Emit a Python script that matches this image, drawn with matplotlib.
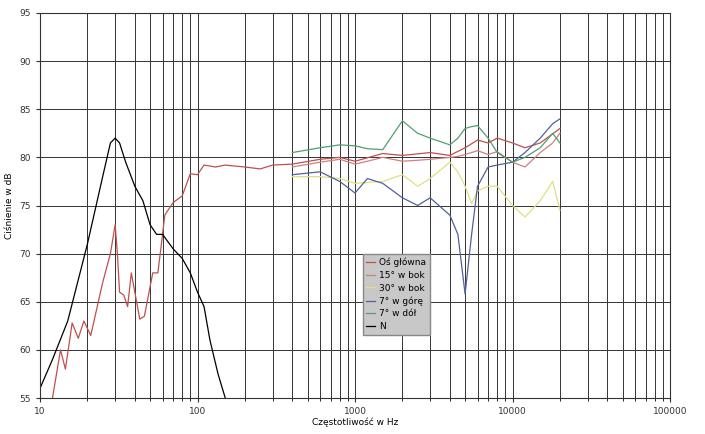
import numpy as np
import matplotlib.pyplot as plt

# Os główna (main axis)
f_main = [12, 13.5, 14.5, 16, 17.5, 19, 21, 25, 28, 30, 31, 32, 34, 36, 38, 40, 43, 46, 52, 56, 59, 62, 70,
          80, 90, 100, 110, 130, 150, 200, 250, 300, 400, 600, 800, 1000, 1500, 2000, 3000, 4000, 5000,
          6000, 7000, 8000, 10000, 12000, 15000, 20000]
db_main = [55, 60, 58, 62.8, 61.2, 63, 61.5, 67, 70, 73, 70, 66, 65.7, 64.5, 68, 66, 63.2, 63.5, 68, 68, 71, 74,
           75.3, 76, 78.3, 78.2, 79.2, 79, 79.2, 79, 78.8, 79.2, 79.3, 79.8, 80, 79.6, 80.4, 80.2, 80.5, 80.2,
           81, 81.8, 81.5, 82, 81.5, 81, 81.5, 83]

f_hi = [400, 600, 800, 1000, 1200, 1500, 2000, 2500, 3000, 4000, 4500, 5000, 5500, 6000, 7000, 8000,
        10000, 12000, 15000, 18000, 20000]
db_15 = [79, 79.5, 79.8, 79.3, 79.6, 80, 79.6, 79.7, 79.8, 80, 80.1, 80.3, 80.5, 80.7, 80.3, 80.6,
         79.5, 79, 80.5, 81.5, 82.5]
db_30 = [78, 78, 77.8, 77.3, 77.4, 77.5, 78.2, 77, 77.8, 79.5, 78.5, 77, 75.2, 76.5, 77, 77,
         75, 73.8, 75.5, 77.5, 74.5]
db_up = [78.2, 78.5, 77.5, 76.3, 77.8, 77.3, 75.8, 75, 75.8, 74, 72, 65.8, 72, 77, 79, 79.2,
         79.5, 80.5, 82, 83.5, 84]
db_down = [80.5, 81, 81.3, 81.2, 80.9, 80.8, 83.8, 82.5, 82, 81.3, 82, 83, 83.2, 83.3, 82, 80.5,
           79.5, 80, 81, 82.5, 81.5]

f_n = [10, 12, 15, 20, 25, 28, 30, 32, 35, 40, 45, 50, 55, 60, 70, 80, 90, 100, 110, 120, 135, 150]
db_n = [56, 59, 63, 71, 78, 81.5, 82, 81.5, 79.5, 77, 75.5, 73, 72, 72, 70.5, 69.5, 68, 66, 64.5, 61, 57.5, 55]

fig = plt.figure(figsize=(7.05, 4.34), dpi=100)
ax = fig.add_axes([40/705, 36/434, 630/705, 385/434])

ax.plot(f_main, db_main, color='#c0504d', lw=0.9, label='Oś główna')
ax.plot(f_hi, db_15, color='#d08080', lw=0.9, label='15° w bok')
ax.plot(f_hi, db_30, color='#e0e080', lw=0.9, label='30° w bok')
ax.plot(f_hi, db_up, color='#5060a0', lw=0.9, label='7° w górę')
ax.plot(f_hi, db_down, color='#50a070', lw=0.9, label='7° w dół')
ax.plot(f_n, db_n, color='black', lw=0.9, label='N')

ax.set_xscale('log')
ax.set_xlim(10, 100000)
ax.set_ylim(55, 95)
ax.set_yticks(range(55, 96, 5))
ax.set_xticks([10, 100, 1000, 10000, 100000])
ax.set_xticklabels(['10', '100', '1000', '10000', '100000'])
ax.grid(True, which='both', color='#333333', lw=0.7)
ax.tick_params(labelsize=6.5, length=3, colors='#333333')
ax.set_xlabel('Częstotliwość w Hz', fontsize=6.5, labelpad=1)
ax.set_ylabel('Ciśnienie w dB', fontsize=6.5)
for s in ax.spines.values():
    s.set_color('#333333')

leg = ax.legend(loc='upper left', bbox_to_anchor=(0.505, 0.385), fontsize=6.5, frameon=True,
                fancybox=False, handlelength=1, handletextpad=0.4, borderpad=0.4, labelspacing=0.4)
leg.get_frame().set_facecolor('#c8c8c8')
leg.get_frame().set_edgecolor('#888888')
leg.get_frame().set_alpha(1)

fig.savefig('out.png', dpi=100)
